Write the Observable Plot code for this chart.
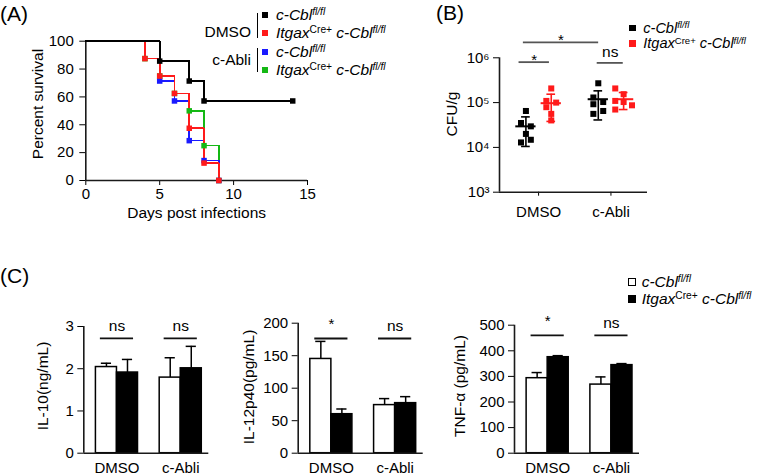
<!DOCTYPE html>
<html><head><meta charset="utf-8">
<script src="https://cdn.jsdelivr.net/npm/d3@7"></script>
<script src="https://cdn.jsdelivr.net/npm/@observablehq/plot@0.6"></script>
<style>
html,body{margin:0;padding:0;background:#fff;}
#fig{position:relative;width:757px;height:475px;overflow:hidden;background:#fff;font-family:"Liberation Sans",Arial,Helvetica,sans-serif;color:#000;}
#fig svg{position:absolute;left:0;top:0;overflow:visible;}
.t{position:absolute;white-space:nowrap;line-height:1;font-size:15.5px;}
.i{font-style:italic;}
.sup{font-size:0.66em;position:relative;top:-0.5em;}
.sw{position:absolute;box-sizing:border-box;}
.vl{position:absolute;border-left:1.5px solid #000;width:0;}
</style></head><body><div id="fig"></div>
<script>
// ---------- Panel A: survival ----------
const survGroups = ["DMSO c-Cbl fl/fl", "DMSO ItgaxCre+ c-Cbl fl/fl", "c-Abli c-Cbl fl/fl", "c-Abli ItgaxCre+ c-Cbl fl/fl"];
const survColors = ["#000000", "#ff1a1a", "#1a1aff", "#14b814"];
const daysDmsoWt = [0, 5, 7, 8, 14];
const survDmsoWt = [100, 85.7, 71.4, 57.1, 57.1];
const daysDmsoKo = [0, 4, 5, 6, 7, 8, 9];
const survDmsoKo = [100, 87.5, 75, 62.5, 37.5, 12.5, 0];
const daysAbliWt = [0, 5, 6, 7, 8, 9];
const survAbliWt = [100, 71.4, 57.1, 28.6, 14.3, 0];
const daysAbliKo = [0, 4, 5, 6, 7, 8, 9];
const survAbliKo = [100, 87.5, 75, 62.5, 50, 25, 0];
const survTicksX = [0, 5, 10, 15];
const survTicksY = [0, 20, 40, 60, 80, 100];

// ---------- Panel B: CFU ----------
const cfuCategories = ["DMSO", "c-Abli"];
const cfuGenotypes = ["c-Cbl fl/fl", "ItgaxCre+ c-Cbl fl/fl"];
const cfuColors = ["#000000", "#ff1a1a"];
const cfuDmsoWt = [6.5e4, 3.5e4, 2.95e4, 2.0e4, 1.29e4, 1.48e4];
const cfuDmsoKo = [2.07e5, 1.09e5, 1.0e5, 7.9e4, 5.6e4, 4.0e4];
const cfuAbliWt = [2.7e5, 1.3e5, 1.03e5, 9.2e4, 5.6e4, 6.5e4];
const cfuAbliKo = [2.07e5, 1.54e5, 1.09e5, 1.03e5, 8.7e4, 7.0e4];
const jitterDmsoWt = [0, -1, 1, 0, -1, 1];
const jitterDmsoKo = [0, -1, 1, -1, 0, 0];
const jitterAbliWt = [0, -1, 1, -1, -1, 1];
const jitterAbliKo = [-1.7, 0, -1.7, 0, 1.7, -1.7];
const cfuMeanWt = [2.95e4, 1.19e5];
const cfuLowWt = [1.05e4, 4.1e4];
const cfuHighWt = [4.8e4, 1.83e5];
const cfuMeanKo = [9.7e4, 1.19e5];
const cfuLowKo = [3.8e4, 7.0e4];
const cfuHighKo = [1.54e5, 1.68e5];
const cfuTicks = [1e3, 1e4, 1e5, 1e6];
const cfuSig = [
  {x1: -0.21, x2: 0.83, y: 2.2e6, label: "*"},
  {x1: -0.27, x2: 0.15, y: 8.0e5, label: "*"},
  {x1: 0.81, x2: 1.17, y: 7.7e5, label: "ns"}
];

// ---------- Panel C: cytokines ----------
const cytoCategories = ["DMSO", "c-Abli"];
const il10Wt = [2.04, 1.79], il10WtSem = [0.09, 0.47];
const il10Ko = [1.91, 2.01], il10KoSem = [0.31, 0.52];
const il12Wt = [145, 74], il12WtSem = [27, 10];
const il12Ko = [60, 77], il12KoSem = [8, 10];
const tnfWt = [293, 268], tnfWtSem = [22, 30];
const tnfKo = [375, 344], tnfKoSem = [6, 6];
const il10Sig = ["ns", "ns"], il12Sig = ["*", "ns"], tnfSig = ["*", "ns"];
const il10Ticks = [0, 1, 2, 3], il12Ticks = [0, 50, 100, 150, 200], tnfTicks = [0, 100, 200, 300, 400, 500];

// ---------- layout ----------
const W = 757, H = 475;
const FONT = '"Liberation Sans", Arial, Helvetica, sans-serif';
const fig = document.getElementById("fig");
const AX = "#1a1a1a";

function overlay(frame, spec) {
  const svg = Plot.plot({
    width: W, height: H,
    marginLeft: frame.left, marginRight: W - frame.right,
    marginTop: frame.top, marginBottom: H - frame.bottom,
    style: {background: "transparent", fontFamily: FONT, fontSize: "15px", color: "#000", overflow: "visible"},
    ...spec
  });
  fig.appendChild(svg);
  return svg;
}

// Panel A
const survSeries = [[daysDmsoWt, survDmsoWt], [daysDmsoKo, survDmsoKo], [daysAbliWt, survAbliWt], [daysAbliKo, survAbliKo]];
const survRows = [];
[3, 2, 1, 0].forEach(g => survSeries[g][0].forEach((d, i) => survRows.push({day: d, surv: survSeries[g][1][i], group: survGroups[g]})));
overlay({left: 85.3, right: 307, top: 40.7, bottom: 180}, {
  x: {domain: [0, 15], ticks: survTicksX, tickFormat: d => String(d), tickSize: 5, tickPadding: 3, label: null},
  y: {domain: [0, 100], ticks: survTicksY, tickFormat: d => String(d), tickSize: 6, tickPadding: 6, label: null},
  color: {domain: survGroups, range: survColors},
  marks: [
    Plot.ruleX([0], {stroke: AX, strokeWidth: 1.6}),
    Plot.ruleY([0], {stroke: AX, strokeWidth: 1.6}),
    Plot.line(survRows, {x: "day", y: "surv", z: "group", stroke: "group", curve: "step-after", strokeWidth: 1.6, shapeRendering: "crispEdges"}),
    Plot.dot(survRows.filter(d => d.day > 0), {x: "day", y: "surv", fill: "group", symbol: "square", r: 3.1}),
    Plot.text(["Days post infections"], {frameAnchor: "bottom", dy: 37, fontSize: 15.5})
  ]
});

// Panel B
const supDigits = {3: "\u00B3", 4: "\u2074", 5: "\u2075", 6: "\u2076"};
const cfuSets = [[cfuDmsoWt, jitterDmsoWt, 0, 0], [cfuDmsoKo, jitterDmsoKo, 0, 1], [cfuAbliWt, jitterAbliWt, 1, 0], [cfuAbliKo, jitterAbliKo, 1, 1]];
const groupOffset = g => (g === 0 ? -0.175 : 0.175);
const cfuPoints = [];
cfuSets.forEach(([vals, jit, c, g]) => vals.forEach((v, i) => cfuPoints.push({x: c + groupOffset(g) + jit[i] * 0.068, v, geno: cfuGenotypes[g]})));
const cfuSummary = [];
cfuCategories.forEach((c, i) => {
  cfuSummary.push({x: i + groupOffset(0), mean: cfuMeanWt[i], low: cfuLowWt[i], high: cfuHighWt[i], geno: cfuGenotypes[0]});
  cfuSummary.push({x: i + groupOffset(1), mean: cfuMeanKo[i], low: cfuLowKo[i], high: cfuHighKo[i], geno: cfuGenotypes[1]});
});
const sigMid = d => (d.x1 + d.x2) / 2;
overlay({left: 499, right: 647, top: 57.3, bottom: 191.7}, {
  x: {domain: [-0.54, 1.505], ticks: [0, 1], tickFormat: i => cfuCategories[i], tickSize: 4, tickPadding: 10, label: null},
  y: {type: "log", domain: [1e3, 1e6], ticks: cfuTicks, tickFormat: d => "10" + supDigits[Math.round(Math.log10(d))], tickSize: 6, tickPadding: 4, label: null},
  color: {domain: cfuGenotypes, range: cfuColors},
  marks: [
    Plot.ruleX([-0.54], {stroke: AX, strokeWidth: 1.6}),
    Plot.ruleY([1e3], {stroke: AX, strokeWidth: 1.6}),
    Plot.dot(cfuPoints, {x: "x", y: "v", fill: "geno", symbol: "square", r: 3.4}),
    Plot.ruleY(cfuSummary, {x1: d => d.x - 0.14, x2: d => d.x + 0.14, y: "mean", stroke: "geno", strokeWidth: 2}),
    Plot.ruleX(cfuSummary, {x: "x", y1: "low", y2: "high", stroke: "geno", strokeWidth: 1.6}),
    Plot.ruleY(cfuSummary, {x1: d => d.x - 0.06, x2: d => d.x + 0.06, y: "low", stroke: "geno", strokeWidth: 1.6}),
    Plot.ruleY(cfuSummary, {x1: d => d.x - 0.06, x2: d => d.x + 0.06, y: "high", stroke: "geno", strokeWidth: 1.6}),
    Plot.ruleY(cfuSig, {x1: "x1", x2: "x2", y: "y", stroke: "#555", strokeWidth: 1.8}),
    Plot.text(cfuSig.filter(d => d.label === "*"), {x: sigMid, y: "y", text: "label", lineAnchor: "bottom", dy: 3, fontSize: 15}),
    Plot.text(cfuSig.filter(d => d.label === "ns"), {x: sigMid, y: "y", text: "label", lineAnchor: "bottom", dy: -6, fontSize: 15.5})
  ]
});

// Panel C
function cytoPanel(frame, yDomain, yTicks, wt, wtSem, ko, koSem, sig, sigY) {
  const white = cytoCategories.map((c, i) => ({x1: i - 0.33, x2: i, v: wt[i], e: wtSem[i]}));
  const black = cytoCategories.map((c, i) => ({x1: i, x2: i + 0.33, v: ko[i], e: koSem[i]}));
  const bars = white.concat(black);
  const mid = d => (d.x1 + d.x2) / 2;
  const sigs = cytoCategories.map((c, i) => ({x1: i - 0.26, x2: i + 0.26, y: sigY, label: sig[i]}));
  overlay(frame, {
    x: {domain: [-0.52, 1.44], ticks: [0, 1], tickFormat: i => cytoCategories[i], tickSize: 0, tickPadding: 9, label: null},
    y: {domain: yDomain, ticks: yTicks, tickFormat: d => String(d), tickSize: 6, tickPadding: 4, label: null},
    marks: [
      Plot.ruleX(bars, {x: mid, y1: "v", y2: d => d.v + d.e, stroke: "#000", strokeWidth: 1.5}),
      Plot.ruleY(bars, {x1: d => mid(d) - 0.08, x2: d => mid(d) + 0.08, y: d => d.v + d.e, stroke: "#000", strokeWidth: 1.5}),
      Plot.rect(white, {x1: "x1", x2: "x2", y1: 0, y2: "v", fill: "white", stroke: "#000", strokeWidth: 1.5}),
      Plot.rect(black, {x1: "x1", x2: "x2", y1: 0, y2: "v", fill: "black", stroke: "#000", strokeWidth: 1.5}),
      Plot.ruleX([-0.52], {stroke: AX, strokeWidth: 1.6}),
      Plot.ruleY([0], {stroke: AX, strokeWidth: 1.6}),
      Plot.ruleY(sigs, {x1: "x1", x2: "x2", y: "y", stroke: "#111", strokeWidth: 1.8}),
      Plot.text(sigs.filter(d => d.label === "*"), {x: mid, y: "y", text: "label", lineAnchor: "bottom", dy: -9, fontSize: 15}),
      Plot.text(sigs.filter(d => d.label === "ns"), {x: mid, y: "y", text: "label", lineAnchor: "bottom", dy: -7, fontSize: 15.5})
    ]
  });
}
cytoPanel({left: 83.3, right: 208.3, top: 326, bottom: 452.7}, [0, 3], il10Ticks, il10Wt, il10WtSem, il10Ko, il10KoSem, il10Sig, 2.72);
cytoPanel({left: 297.7, right: 422.7, top: 322.7, bottom: 452.7}, [0, 200], il12Ticks, il12Wt, il12WtSem, il12Ko, il12KoSem, il12Sig, 176.5);
cytoPanel({left: 514, right: 639, top: 324.7, bottom: 452.7}, [0, 500], tnfTicks, tnfWt, tnfWtSem, tnfKo, tnfKoSem, tnfSig, 460);

// ---------- HTML labels & legends ----------
function label(html, x, y, anchor, size, rotate) {
  const d = document.createElement("div");
  d.className = "t";
  d.innerHTML = html;
  d.style.left = x + "px";
  d.style.top = y + "px";
  const ax = anchor === "end" ? "-100%" : anchor === "middle" ? "-50%" : "0";
  d.style.transform = `translate(${ax},-50%)` + (rotate ? ` rotate(${rotate}deg)` : "");
  if (size) d.style.fontSize = size + "px";
  fig.appendChild(d);
}
function swatch(cx, cy, s, fill, border) {
  const d = document.createElement("div");
  d.className = "sw";
  Object.assign(d.style, {left: (cx - s / 2) + "px", top: (cy - s / 2) + "px", width: s + "px", height: s + "px", background: fill, border: border || "none"});
  fig.appendChild(d);
}
function vline(x, y1, y2) {
  const d = document.createElement("div");
  d.className = "vl";
  Object.assign(d.style, {left: x + "px", top: y1 + "px", height: (y2 - y1) + "px"});
  fig.appendChild(d);
}
const wtHTML = '<span class="i">c-Cbl<span class="sup">fl/fl</span></span>';
const koHTML = '<span class="i">Itgax</span><span class="sup">Cre+</span> <span class="i">c-Cbl<span class="sup">fl/fl</span></span>';

// panel letters
label("(A)", 0, 13, "start", 21);
label("(B)", 436, 12, "start", 21);
label("(C)", 0, 275, "start", 21);

// axis titles (rotated)
label("Percent survival", 38, 104, "middle", 15.5, -90);
label("CFU/g", 452, 114, "middle", 15.5, -90);
label("IL-10(ng/mL)", 43, 386, "middle", 15.5, -90);
label("IL-12p40(pg/mL)", 249, 387, "middle", 15.5, -90);
label("TNF-\u03B1 (pg/mL)", 460, 386, "middle", 15.5, -90);

// legend A
label("DMSO", 251, 32, "end");
label("c-Abli", 251, 60, "end");
vline(256.5, 13, 38);
vline(256.5, 48, 72);
const legA = [[15, wtHTML], [33, koHTML], [52, wtHTML], [70, koHTML]];
legA.forEach(([y, html], i) => { swatch(265, y, 6.5, survColors[i]); label(html, 276, y, "start"); });

// legend B
[[27.8, wtHTML], [43.4, koHTML]].forEach(([y, html], i) => { swatch(632.7, y, 6.5, cfuColors[i]); label(html, 643.3, y, "start", 14.5); });

// legend C
swatch(631.7, 282, 8, "#fff", "1px solid #000");
label(wtHTML, 641.7, 282, "start");
swatch(631.7, 299, 8, "#000");
label(koHTML, 641.7, 299, "start");
</script></body></html>
